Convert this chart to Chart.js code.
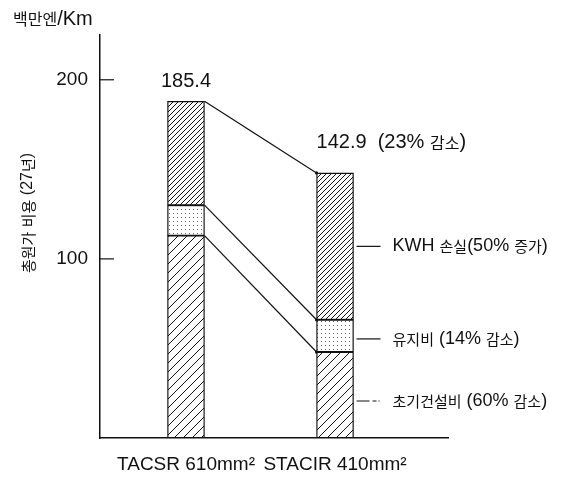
<!DOCTYPE html>
<html>
<head>
<meta charset="utf-8">
<script src="https://cdn.jsdelivr.net/npm/chart.js@4.4.1/dist/chart.umd.min.js"></script>
<style>
  html, body { margin: 0; padding: 0; background: #fff; }
</style>
</head>
<body>
<canvas id="costChart" width="565" height="477"></canvas>
<script>
"use strict"

// values (백만엔/Km)
const categories = ['TACSR 610mm²', 'STACIR 410mm²'];
const construction = [113, 48];
const maintenance = [17, 18];
const kwhLoss = [58, 82];
const totalLabels = ['185.4', '142.9  (23% 감소)'];
const segmentNotes = ['초기건설비 (60% 감소)', '유지비 (14% 감소)', 'KWH 손실(50% 증가)'];
const yTicks = [100, 200];
const unitText = '백만엔/Km';
const yTitle = '총원가 비용 (27년)';

const INK = '#111';
const LATIN = '"Liberation Sans", Arial, sans-serif';
const HANGUL = '"Noto Sans CJK KR", sans-serif';

function hatch(step) {
  const c = document.createElement('canvas');
  c.width = step; c.height = step;
  const g = c.getContext('2d');
  g.fillStyle = '#fff';
  g.fillRect(0, 0, step, step);
  g.strokeStyle = INK;
  g.lineWidth = 1;
  g.beginPath();
  g.moveTo(-1, step + 1); g.lineTo(step + 1, -1);
  g.moveTo(-1, 1); g.lineTo(1, -1);
  g.moveTo(step - 1, step + 1); g.lineTo(step + 1, step - 1);
  g.stroke();
  return c;
}

function dots() {
  const c = document.createElement('canvas');
  c.width = 4; c.height = 4;
  const g = c.getContext('2d');
  g.fillStyle = '#fff';
  g.fillRect(0, 0, 4, 4);
  g.fillStyle = '#666';
  g.fillRect(1, 1, 1, 1);
  return c;
}

// canvas cannot mix font sizes in one call, so split hangul and latin runs
function mixedText(ctx, text, x, y, latinPx, hangulPx, align) {
  const parts = [];
  for (const ch of text) {
    const k = /[\uAC00-\uD7A3]/.test(ch) ? 'h' : 'l';
    if (parts.length && parts[parts.length - 1].k === k) parts[parts.length - 1].t += ch;
    else parts.push({ k: k, t: ch });
  }
  ctx.save();
  ctx.textBaseline = 'middle';
  ctx.textAlign = 'left';
  let w = 0;
  parts.forEach(p => {
    p.font = p.k === 'h' ? hangulPx + 'px ' + HANGUL : latinPx + 'px ' + LATIN;
    ctx.font = p.font;
    p.w = ctx.measureText(p.t).width;
    w += p.w;
  });
  let cx = align === 'center' ? x - w / 2 : (align === 'right' ? x - w : x);
  parts.forEach(p => {
    ctx.font = p.font;
    ctx.fillText(p.t, cx, y);
    cx += p.w;
  });
  ctx.restore();
}

const labelLift = [20, 30];
const labelAlign = ['center', 'left'];
const noteShift = [6, 3, 0];

const overlay = {
  id: 'overlay',
  afterDraw(chart) {
    const ctx = chart.ctx;
    const yScale = chart.scales.y;
    const area = chart.chartArea;
    const segs = [0, 1, 2].map(i => chart.getDatasetMeta(i).data);
    const seg = (x1, y1, x2, y2) => {
      ctx.beginPath(); ctx.moveTo(x1, y1); ctx.lineTo(x2, y2); ctx.stroke();
    };
    ctx.save();
    ctx.strokeStyle = INK;
    ctx.fillStyle = INK;
    ctx.lineWidth = 1.2;

    // tick marks point into the plot
    yTicks.forEach(v => {
      const py = yScale.getPixelForValue(v);
      seg(area.left, py, area.left + 14, py);
    });

    // connectors from segment tops of bar 1 to bar 2
    segs.forEach(bars => {
      const a = bars[0], b = bars[1];
      const bx = b.x - b.width / 2;
      seg(a.x + a.width / 2, a.y, bx, b.y);
      ctx.beginPath(); ctx.arc(bx, b.y, 1.6, 0, Math.PI * 2); ctx.fill();
    });

    // notes beside bar 2
    segs.forEach((bars, s) => {
      const b = bars[1];
      const mid = (b.y + b.base) / 2 + noteShift[s];
      const x0 = b.x + b.width / 2 + 3;
      if (s === 0) ctx.setLineDash([13, 3, 4, 2, 1, 10]);
      seg(x0, mid, x0 + 24, mid);
      ctx.setLineDash([]);
      mixedText(ctx, segmentNotes[s], x0 + 36, mid, 18, 15, 'left');
    });

    // totals above the bars
    segs[2].forEach((b, i) => {
      const x = labelAlign[i] === 'center' ? b.x : b.x - b.width / 2;
      mixedText(ctx, totalLabels[i], x, b.y - labelLift[i], 20, 16, labelAlign[i]);
    });

    mixedText(ctx, unitText, 13, 19, 20, 16, 'left');

    ctx.translate(28, 213);
    ctx.rotate(-Math.PI / 2);
    mixedText(ctx, yTitle, 0, 0, 16, 15, 'center');
    ctx.restore();
  }
};

const canvas = document.getElementById('costChart');
const pctx = canvas.getContext('2d');
const fills = [
  pctx.createPattern(hatch(9), 'repeat'),
  pctx.createPattern(dots(), 'repeat'),
  pctx.createPattern(hatch(5), 'repeat')
];
const series = [construction, maintenance, kwhLoss];
const names = ['초기건설비', '유지비', 'KWH 손실'];

new Chart(canvas, {
  type: 'bar',
  data: {
    datasets: series.map((vals, s) => ({
      label: names[s],
      data: vals.map((v, i) => ({ x: i, y: v })),
      backgroundColor: fills[s],
      borderColor: INK,
      borderWidth: 1.3,
      borderSkipped: false,
      barThickness: 37
    }))
  },
  options: {
    responsive: false,
    animation: false,
    devicePixelRatio: 1,
    layout: { padding: { top: 35, right: 117, left: 0, bottom: 0 } },
    plugins: {
      legend: { display: false },
      tooltip: { enabled: false }
    },
    scales: {
      x: {
        type: 'linear',
        stacked: true,
        offset: false,
        min: -0.577,
        max: 1.758,
        grid: { display: false, drawTicks: false, offset: false },
        border: { color: INK, width: 1.5 },
        afterBuildTicks: s => { s.ticks = categories.map((c, i) => ({ value: i })); },
        afterFit: s => { s.height = 39; },
        ticks: {
          callback: v => categories[v],
          color: INK,
          font: { family: LATIN, size: 19 },
          padding: 15,
          maxRotation: 0,
          autoSkip: false
        }
      },
      y: {
        stacked: true,
        min: 0,
        max: 225,
        grid: { display: false, drawTicks: false },
        border: { color: INK, width: 1.5 },
        afterBuildTicks: s => { s.ticks = yTicks.map(v => ({ value: v })); },
        afterFit: s => { s.width = 100; },
        ticks: {
          color: INK,
          font: { family: LATIN, size: 19 },
          padding: 12
        }
      }
    }
  },
  plugins: [overlay]
});
</script>
</body>
</html>
